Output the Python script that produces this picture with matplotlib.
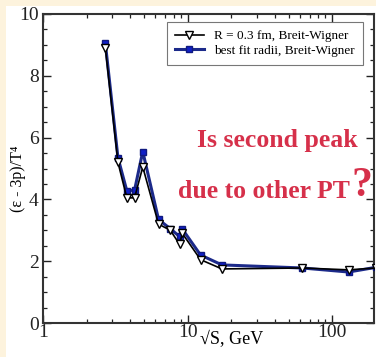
import matplotlib
matplotlib.use("Agg")
import matplotlib.pyplot as plt
from matplotlib.patches import Rectangle
from matplotlib.ticker import LogLocator, MultipleLocator, NullFormatter, FixedLocator, FixedFormatter

# Data
sqrt_s = [2.7, 3.3, 3.8, 4.3, 4.9, 6.3, 7.6, 8.8, 9.2, 12.3, 17.3, 62.4, 130, 200]
r03_bw = [8.9, 5.2, 4.05, 4.05, 5.05, 3.2, 3.0, 2.55, 2.9, 2.05, 1.75, 1.78, 1.72, 1.78]
bestfit_bw = [9.05, 5.35, 4.28, 4.3, 5.55, 3.35, 3.05, 2.8, 3.04, 2.2, 1.88, 1.78, 1.65, 1.8]
labels = ["R = 0.3 fm, Breit-Wigner", "best fit radii, Breit-Wigner"]
xticks = [1, 10, 100]
xticklabels = ["1", "10", "100"]
yticks = [0, 2, 4, 6, 8, 10]

serif = ["Liberation Serif", "DejaVu Serif"]

fig = plt.figure(figsize=(3.76, 3.57), dpi=100)
fig.patch.set_facecolor("#fdf3dd")
fig.patches.append(Rectangle((6/376, 0), 1, (357-6)/357, transform=fig.transFigure,
                             facecolor="white", edgecolor="none", zorder=-10))

ax = fig.add_axes([43/376, 34/357, 331/376, 309/357])
ax.set_facecolor("white")

ax.plot(sqrt_s, bestfit_bw, color="#1c2a8a", lw=2.2, marker="s", ms=5,
        mfc="#1020c8", mec="#101a80", label=labels[1], zorder=3)
ax.plot(sqrt_s, r03_bw, color="black", lw=1.2, marker="v", ms=6,
        mfc="white", mec="black", mew=1.0, label=labels[0], zorder=4)

ax.set_xscale("log")
ax.set_xlim(1, 195)
ax.set_ylim(0, 10)
ax.xaxis.set_major_locator(FixedLocator(xticks))
ax.xaxis.set_major_formatter(FixedFormatter(xticklabels))
ax.xaxis.set_minor_locator(LogLocator(base=10, subs=range(2, 10)))
ax.xaxis.set_minor_formatter(NullFormatter())
ax.set_yticks(yticks)
ax.yaxis.set_minor_locator(MultipleLocator(0.5))

ax.tick_params(which="both", direction="in", top=True, right=True, colors="#222222")
ax.tick_params(which="major", length=6, width=1.0, labelsize=14, pad=3)
ax.tick_params(which="minor", length=3, width=0.9)
ax.tick_params(axis="x", which="major", pad=1)
for lab in ax.get_xticklabels() + ax.get_yticklabels():
    lab.set_family(serif)
for sp in ax.spines.values():
    sp.set_linewidth(1.5)
    sp.set_color("#333333")

handles, labs = ax.get_legend_handles_labels()
leg = ax.legend(handles[::-1], labs[::-1], loc="upper right", bbox_to_anchor=(0.966, 0.973),
                prop={"family": serif, "size": 9.5}, frameon=True, fancybox=False,
                edgecolor="#555555", borderpad=0.6, handlelength=2.2, labelspacing=0.15,
                borderaxespad=0.0)
leg.get_frame().set_linewidth(0.8)

fig.text(18/376, 1 - 179/357, "(ε - 3p)/T\u2074", family=serif, fontsize=11.5,
         rotation=90, ha="center", va="center")
fig.text(232/376, 1 - 340/357, "√S, GeV", family=serif, fontsize=13,
         ha="center", va="center")

red = "#d6304a"
fig.text(277/376, 1 - 141/357, "Is second peak", family=serif, fontsize=18.5,
         fontweight="bold", color=red, ha="center", va="center")
fig.text(264/376, 1 - 192/357, "due to other PT", family=serif, fontsize=18.5,
         fontweight="bold", color=red, ha="center", va="center")
fig.text(362/376, 1 - 186/357, "?", family=serif, fontsize=30,
         fontweight="bold", color=red, ha="center", va="center")

fig.savefig("out.png", dpi=100)
